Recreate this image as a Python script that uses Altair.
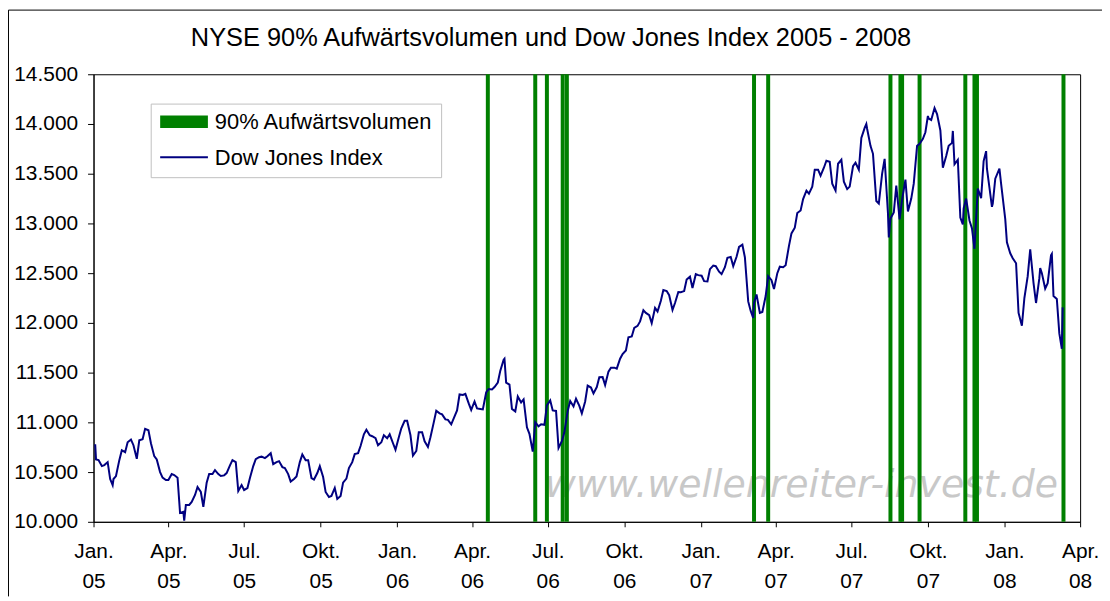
import altair as alt
import pandas as pd

# ---------------- data ----------------
TITLE = "NYSE 90% Aufwärtsvolumen und Dow Jones Index 2005 - 2008"
LEGEND_LABELS = ["90% Aufwärtsvolumen", "Dow Jones Index"]
WATERMARK = "www.wellenreiter-invest.de"

# Dow Jones Index on Fridays (from 2005-01-07, weekly)
dow_fri = [
    10620, 10570, 10430, 10460, 10720, 10800, 10770, 10820, 10935, 10790,
    10627, 10444, 10420, 10470, 10090, 10170, 10200, 10350, 10150, 10480,
    10520, 10460, 10490, 10620, 10310, 10320, 10440, 10630, 10655, 10660,
    10580, 10610, 10540, 10405, 10455, 10677, 10620, 10425, 10560, 10300,
    10260, 10230, 10394, 10540, 10680, 10762, 10925, 10860, 10770, 10870,
    10880, 10725, 10940, 11015, 10665, 10900, 10810, 10850, 11117, 11080,
    11025, 11040, 11280, 11287, 11125, 11140, 11130, 11335, 11355, 11520,
    11400, 11135, 11260, 11230, 10885, 11000, 10980, 11170, 11120, 10742,
    10900, 11215, 11237, 11090, 11370, 11290, 11454, 11375, 11550, 11540,
    11687, 11855, 11950, 12015, 12100, 11998, 12115, 12330, 12278, 12200,
    12308, 12436, 12350, 12480, 12420, 12540, 12570, 12490, 12654, 12570,
    12764, 12660, 12120, 12285, 12110, 12470, 12340, 12565, 12580, 12900,
    13105, 13245, 13300, 13540, 13480, 13630, 13400, 13600, 13420, 13370,
    13610, 13860, 13950, 13700, 13200, 13650, 13050, 13380, 13240, 13120,
    13400, 13800, 13917, 14040, 14100, 13560, 13780, 13595, 13060, 13250,
    12950, 13350, 13627, 13360, 13450, 13400, 12810, 12650, 12100, 12250,
    12740, 12200, 12500, 12400, 12270, 11894,
]
# Dow Jones Index on Tuesdays (from 2005-01-04, weekly); None = covered by the list below
dow_tue = [
    10627, 10560, 10600, 10430, 10620, 10700, 10827, 10634, 10830, 10920,
    10660, 10500, 10420, 10480, 10444, 10100, 10170, 10270, 10300, 10394,
    10480, 10480, 10467, 10567, 10600, 10370, 10340, 10560, 10650, 10640,
    10690, 10600, 10550, 10480, 10430, 10600, 10620, 10440, 10490, 10450,
    10250, 10340, 10260, 10434, 10600, 10690, 10880, 10870, 10840, 10800,
    10840, 10790, 10850, 11015, 10870, 10712, 10900, 10752, 11000, 11090,
    11030, 10980, 11120, 11275, 11190, 11210, 11135, 11300, 11330, 11400,
    11630, 11380, 11110, 11200, 10950, None, 10960, 10975, 11220, 11115,
    10810, 11115, 11160, 11165, 11210, 11350, 11355, 11455, 11510, 11550,
    11640, 11722, 11863, 11970, 12127, 12078, 12150, 12222, 12320, 12130,
    12310, 12320, 12465, 12490, 12474, 12417, 12577, 12515, 12560, 12663,
    12665, None, None, 12200, 12100, 12270, 12430, 12500, 12560, 12774,
    12957, 13130, 13330, 13370, 13540, 13560, 13620, 13330, 13640, 13345,
    13575, 13540, 13960, 13780, 13225, 13500, 13100, 13110, None, None,
    13250, None, 13850, 14055, None, 13935, 13677, 13810, 13640, 13150,
    13030, 12900, 13255, 13550, 13200, None, None, 12700, 12600, None,
    12470, 12400, 12450, 12345, 12680, 12240,
]
fri_dates = pd.date_range("2005-01-07", periods=len(dow_fri), freq="7D")
tue_dates = pd.date_range("2005-01-04", periods=len(dow_tue), freq="7D")

# additional turning points
extra_dates = [
    "2005-01-03", "2005-01-24", "2005-04-20", "2006-05-10", "2006-06-13",
    "2007-02-20", "2007-02-27", "2007-03-05", "2007-07-19", "2007-08-15",
    "2007-08-28", "2007-09-04", "2007-09-18", "2007-10-01", "2007-10-09",
    "2007-10-31", "2007-11-12", "2007-11-26", "2007-12-10", "2007-12-17",
    "2007-12-26", "2008-01-02", "2008-01-22", "2008-02-13", "2008-02-27",
    "2008-03-10", "2008-03-11",
]
extra_values = [
    10780, 10368, 10012, 11640, 10706,
    12786, 12216, 12050, 14000, 12860,
    13040, 13440, 13780, 14080, 14160,
    13930, 12990, 12745, 13727, 13167,
    13551, 13044, 11971, 12552, 12694,
    11740, 12156,
]

# days with 90% up volume on the NYSE
up_days = [
    "2006-04-20", "2006-06-16", "2006-06-30", "2006-07-19", "2006-07-24",
    "2007-03-06", "2007-03-23", "2007-08-17", "2007-08-29", "2007-08-31",
    "2007-09-21", "2007-11-15", "2007-11-26", "2007-11-29", "2008-03-12",
]

# axis tick labels
QUARTER_NAMES = ["Jan.", "Apr.", "Jul.", "Okt."]
Y_TICKS = list(range(10000, 14501, 500))

# ---------------- tables ----------------
dow = pd.concat([
    pd.DataFrame({"date": fri_dates.strftime("%Y-%m-%d"), "value": dow_fri}),
    pd.DataFrame({"date": tue_dates.strftime("%Y-%m-%d"), "value": dow_tue}),
    pd.DataFrame({"date": extra_dates, "value": extra_values}),
]).dropna().sort_values("date").reset_index(drop=True)
bars = pd.DataFrame({"date": up_days})

quarter_ticks = [
    alt.DateTime(year=y, month=m, date=1, utc=True)
    for y in (2005, 2006, 2007, 2008)
    for m in (1, 4, 7, 10)
    if not (y == 2008 and m > 4)
]

FONT = "Liberation Sans"
GREEN = "#008000"
NAVY = "#000080"

x_scale = alt.Scale(
    type="utc",
    domain=[alt.DateTime(year=2005, month=1, date=1, utc=True),
            alt.DateTime(year=2008, month=4, date=1, utc=True)],
)
x_axis = alt.Axis(
    title=None,
    values=quarter_ticks,
    labelExpr="[" + str(QUARTER_NAMES) + "[floor(utcmonth(datum.value)/3)], utcFormat(datum.value, '%y')]",
    labelBaseline="alphabetic",
    labelLineHeight=30,
    labelPadding=31,
    tickSize=5,
    labelAlign="center",
    labelFlush=False,
    labelOverlap=False,
)
y_scale = alt.Scale(domain=[10000, 14500], nice=False, zero=False)
y_axis = alt.Axis(
    title=None,
    values=Y_TICKS,
    labelExpr="replace(format(datum.value, ','), ',', '.')",
    tickSize=6,
    labelPadding=10,
)

watermark = alt.Chart(pd.DataFrame({"t": [WATERMARK]})).mark_text(
    font="DejaVu Sans", fontSize=38, fontStyle="italic", color="#c8c8c8",
    align="left", baseline="alphabetic",
).encode(x=alt.value(454), y=alt.value(425), text="t:N")

up_rules = alt.Chart(bars).mark_rule(color=GREEN, strokeWidth=4).encode(
    x=alt.X("date:T", scale=x_scale, axis=x_axis),
)

line = alt.Chart(dow).mark_line(color=NAVY, strokeWidth=2).encode(
    x=alt.X("date:T", scale=x_scale, axis=x_axis),
    y=alt.Y("value:Q", scale=y_scale, axis=y_axis),
)

one = pd.DataFrame({"a": [0]})
legend_box = alt.Chart(one).mark_rect(fill="white", stroke="#c0c0c0", strokeWidth=1).encode(
    x=alt.value(58), x2=alt.value(350), y=alt.value(30), y2=alt.value(104)
)
legend_swatch = alt.Chart(one).mark_rect(color=GREEN).encode(
    x=alt.value(67), x2=alt.value(115), y=alt.value(41.5), y2=alt.value(54)
)
legend_line = alt.Chart(one).mark_rule(color=NAVY, strokeWidth=2).encode(
    x=alt.value(67), x2=alt.value(115), y=alt.value(83.5)
)
legend_t1 = alt.Chart(pd.DataFrame({"t": [LEGEND_LABELS[0]]})).mark_text(
    font=FONT, fontSize=22, align="left", baseline="alphabetic", color="black"
).encode(x=alt.value(122), y=alt.value(55), text="t:N")
legend_t2 = alt.Chart(pd.DataFrame({"t": [LEGEND_LABELS[1]]})).mark_text(
    font=FONT, fontSize=22, align="left", baseline="alphabetic", color="black"
).encode(x=alt.value(122), y=alt.value(91), text="t:N")

title = alt.Chart(pd.DataFrame({"t": [TITLE]})).mark_text(
    font=FONT, fontSize=25.5, align="center", baseline="alphabetic", color="black"
).encode(x=alt.value(460), y=alt.value(-28), text="t:N")

frame_top = alt.Chart(one).mark_rule(color="black", strokeWidth=1).encode(
    x=alt.value(-85.5), x2=alt.value(1014), y=alt.value(-64.5)
)
frame_left = alt.Chart(one).mark_rule(color="black", strokeWidth=1).encode(
    x=alt.value(-85.5), y=alt.value(-64.5), y2=alt.value(525)
)

chart = alt.layer(
    watermark, up_rules, line,
    legend_box, legend_swatch, legend_line, legend_t1, legend_t2,
    title, frame_top, frame_left,
).properties(
    width=992,
    height=450,
    autosize=alt.AutoSizeParams(type="none"),
    padding={"left": 86, "top": 65, "right": 22, "bottom": 75},
).configure_view(
    stroke="black", strokeWidth=1
).configure_axis(
    grid=False,
    domainColor="black",
    tickColor="black",
    labelColor="black",
    labelFont=FONT,
    labelFontSize=21,
)

chart.save("out.html", embed_options={"renderer": "svg", "actions": False})
